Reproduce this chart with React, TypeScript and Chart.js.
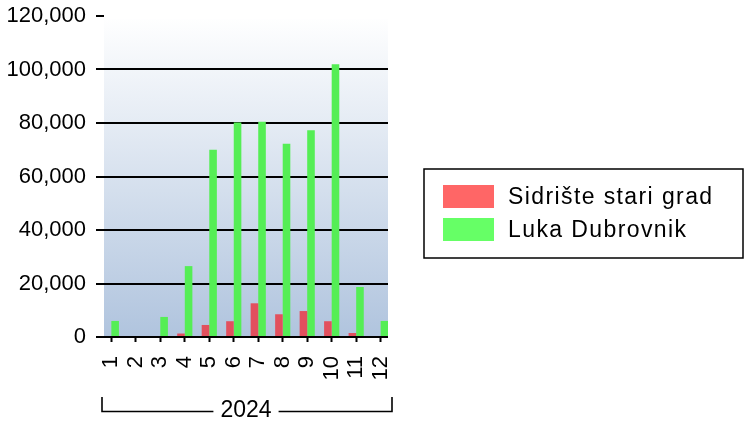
import React, { useEffect, useRef } from 'react';
import { Chart, registerables } from 'chart.js';

Chart.register(...registerables);

const categories = ['1', '2', '3', '4', '5', '6', '7', '8', '9', '10', '11', '12'];
const yearLabel = '2024';
const sidristeStariGrad = [0, 0, 0, 1300, 4500, 5900, 12600, 8500, 9700, 5900, 1500, 0];
const lukaDubrovnik = [6000, 0, 7500, 26500, 70000, 80200, 80500, 72200, 77300, 102000, 18700, 6000];
const yTickValues = [0, 20000, 40000, 60000, 80000, 100000, 120000];
const seriesNames = ['Sidrište stari grad', 'Luka Dubrovnik'];
const legendColors = ['#FF6666', '#66FF66'];
const barColors = ['#E2505E', '#55EE55'];

const W = 746;
const H = 426;

export default function App() {
  const ref = useRef<HTMLCanvasElement>(null);

  useEffect(() => {
    const canvas = ref.current;
    if (!canvas) return;

    const bgPlugin = {
      id: 'bgGradient',
      beforeDraw(chart: any) {
        const { ctx, chartArea } = chart;
        if (!chartArea) return;
        const g = ctx.createLinearGradient(0, chartArea.top, 0, chartArea.bottom);
        g.addColorStop(0, '#FFFFFF');
        g.addColorStop(1, '#B0C4DE');
        ctx.save();
        ctx.fillStyle = g;
        ctx.fillRect(chartArea.left, chartArea.top + 3, chartArea.right - chartArea.left, chartArea.bottom - chartArea.top - 3);
        ctx.restore();
      },
    };

    const bracketPlugin = {
      id: 'yearBracket',
      afterDraw(chart: any) {
        const { ctx, chartArea } = chart;
        const left = chartArea.left - 2;
        const right = chartArea.right + 4;
        const yLine = 411.5;
        const yTop = 397;
        const cx = (chartArea.left + chartArea.right) / 2;
        ctx.save();
        ctx.font = '23px "Liberation Sans"';
        const tw = ctx.measureText(yearLabel).width;
        ctx.strokeStyle = '#000';
        ctx.lineWidth = 1.6;
        ctx.beginPath();
        ctx.moveTo(left, yTop);
        ctx.lineTo(left, yLine);
        ctx.lineTo(cx - tw / 2 - 7, yLine);
        ctx.moveTo(cx + tw / 2 + 7, yLine);
        ctx.lineTo(right, yLine);
        ctx.lineTo(right, yTop);
        ctx.stroke();
        ctx.restore();
      },
    };

    const legendPlugin = {
      id: 'boxLegend',
      afterDraw(chart: any) {
        const { ctx } = chart;
        ctx.save();
        ctx.strokeStyle = '#000';
        ctx.lineWidth = 1.5;
        ctx.strokeRect(424, 169, 319, 89);
        const rows = [185, 218];
        chart.data.datasets.forEach((ds: any, i: number) => {
          ctx.fillStyle = legendColors[i];
          ctx.fillRect(443, rows[i], 51, 23);
          ctx.fillStyle = '#000';
          ctx.font = '23px "Liberation Sans"';
          (ctx as any).letterSpacing = '1.4px';
          ctx.textBaseline = 'alphabetic';
          ctx.textAlign = 'left';
          ctx.fillText(ds.label, 508, rows[i] + 19);
        });
        ctx.restore();
      },
    };

    const chart = new Chart(canvas, {
      type: 'bar',
      data: {
        datasets: [
          {
            label: seriesNames[0],
            data: categories.map((_, i) => ({ x: i + 1, y: sidristeStariGrad[i] })),
            backgroundColor: barColors[0],
            borderWidth: 0,
            categoryPercentage: 0.62,
            barPercentage: 1,
          },
          {
            label: seriesNames[1],
            data: categories.map((_, i) => ({ x: i + 1, y: lukaDubrovnik[i] })),
            backgroundColor: barColors[1],
            borderWidth: 0,
            categoryPercentage: 0.62,
            barPercentage: 1,
          },
        ],
      },
      options: {
        responsive: false,
        animation: false,
        devicePixelRatio: 1,
        layout: { padding: { top: 16, right: W - 388, bottom: 0, left: 0 } },
        plugins: {
          legend: { display: false },
          tooltip: { enabled: false },
        },
        scales: {
          x: {
            type: 'linear',
            offset: false,
            min: 0.7,
            max: 12.3,
            afterBuildTicks: (s: any) => {
              s.ticks = categories.map((_, i) => ({ value: i + 1 }));
            },
            afterFit: (s: any) => {
              s.height = H - 337;
              s.paddingLeft = 0;
              s.paddingRight = 0;
            },
            border: { display: false },
            grid: {
              offset: false,
              drawOnChartArea: false,
              drawTicks: true,
              tickLength: 5,
              tickColor: '#000',
              tickWidth: 2,
            },
            ticks: {
              autoSkip: false,
              maxRotation: 90,
              minRotation: 90,
              color: '#000',
              padding: 14,
              font: { family: 'Liberation Sans', size: 22 },
              callback: (v: any) => categories[Math.round(Number(v)) - 1],
            },
            title: {
              display: true,
              text: yearLabel,
              color: '#000',
              font: { family: 'Liberation Sans', size: 23 },
              padding: { top: 0, bottom: 2 },
            },
          },
          y: {
            min: 0,
            max: 120000,
            z: 1,
            afterBuildTicks: (s: any) => {
              s.ticks = yTickValues.map((v) => ({ value: v }));
            },
            afterFit: (s: any) => {
              s.width = 104;
              s.paddingTop = 0;
              s.paddingBottom = 0;
            },
            border: { display: false },
            grid: {
              color: (c: any) => (c.tick && c.tick.value === 120000 ? 'rgba(0,0,0,0)' : '#000'),
              lineWidth: 2,
              drawTicks: true,
              tickLength: 8,
              tickColor: '#000',
              tickWidth: 2,
            },
            ticks: {
              color: '#000',
              padding: 10,
              font: { family: 'Liberation Sans', size: 22 },
              callback: (v: any) => Number(v).toLocaleString('en-US'),
            },
          },
        },
      },
      plugins: [bgPlugin, bracketPlugin, legendPlugin],
    } as any);

    return () => chart.destroy();
  }, []);

  return (
    <div style={{ position: 'fixed', left: 0, top: 0, width: W, height: H, background: '#fff' }}>
      <canvas ref={ref} width={W} height={H} style={{ width: W, height: H, display: 'block' }} />
    </div>
  );
}
